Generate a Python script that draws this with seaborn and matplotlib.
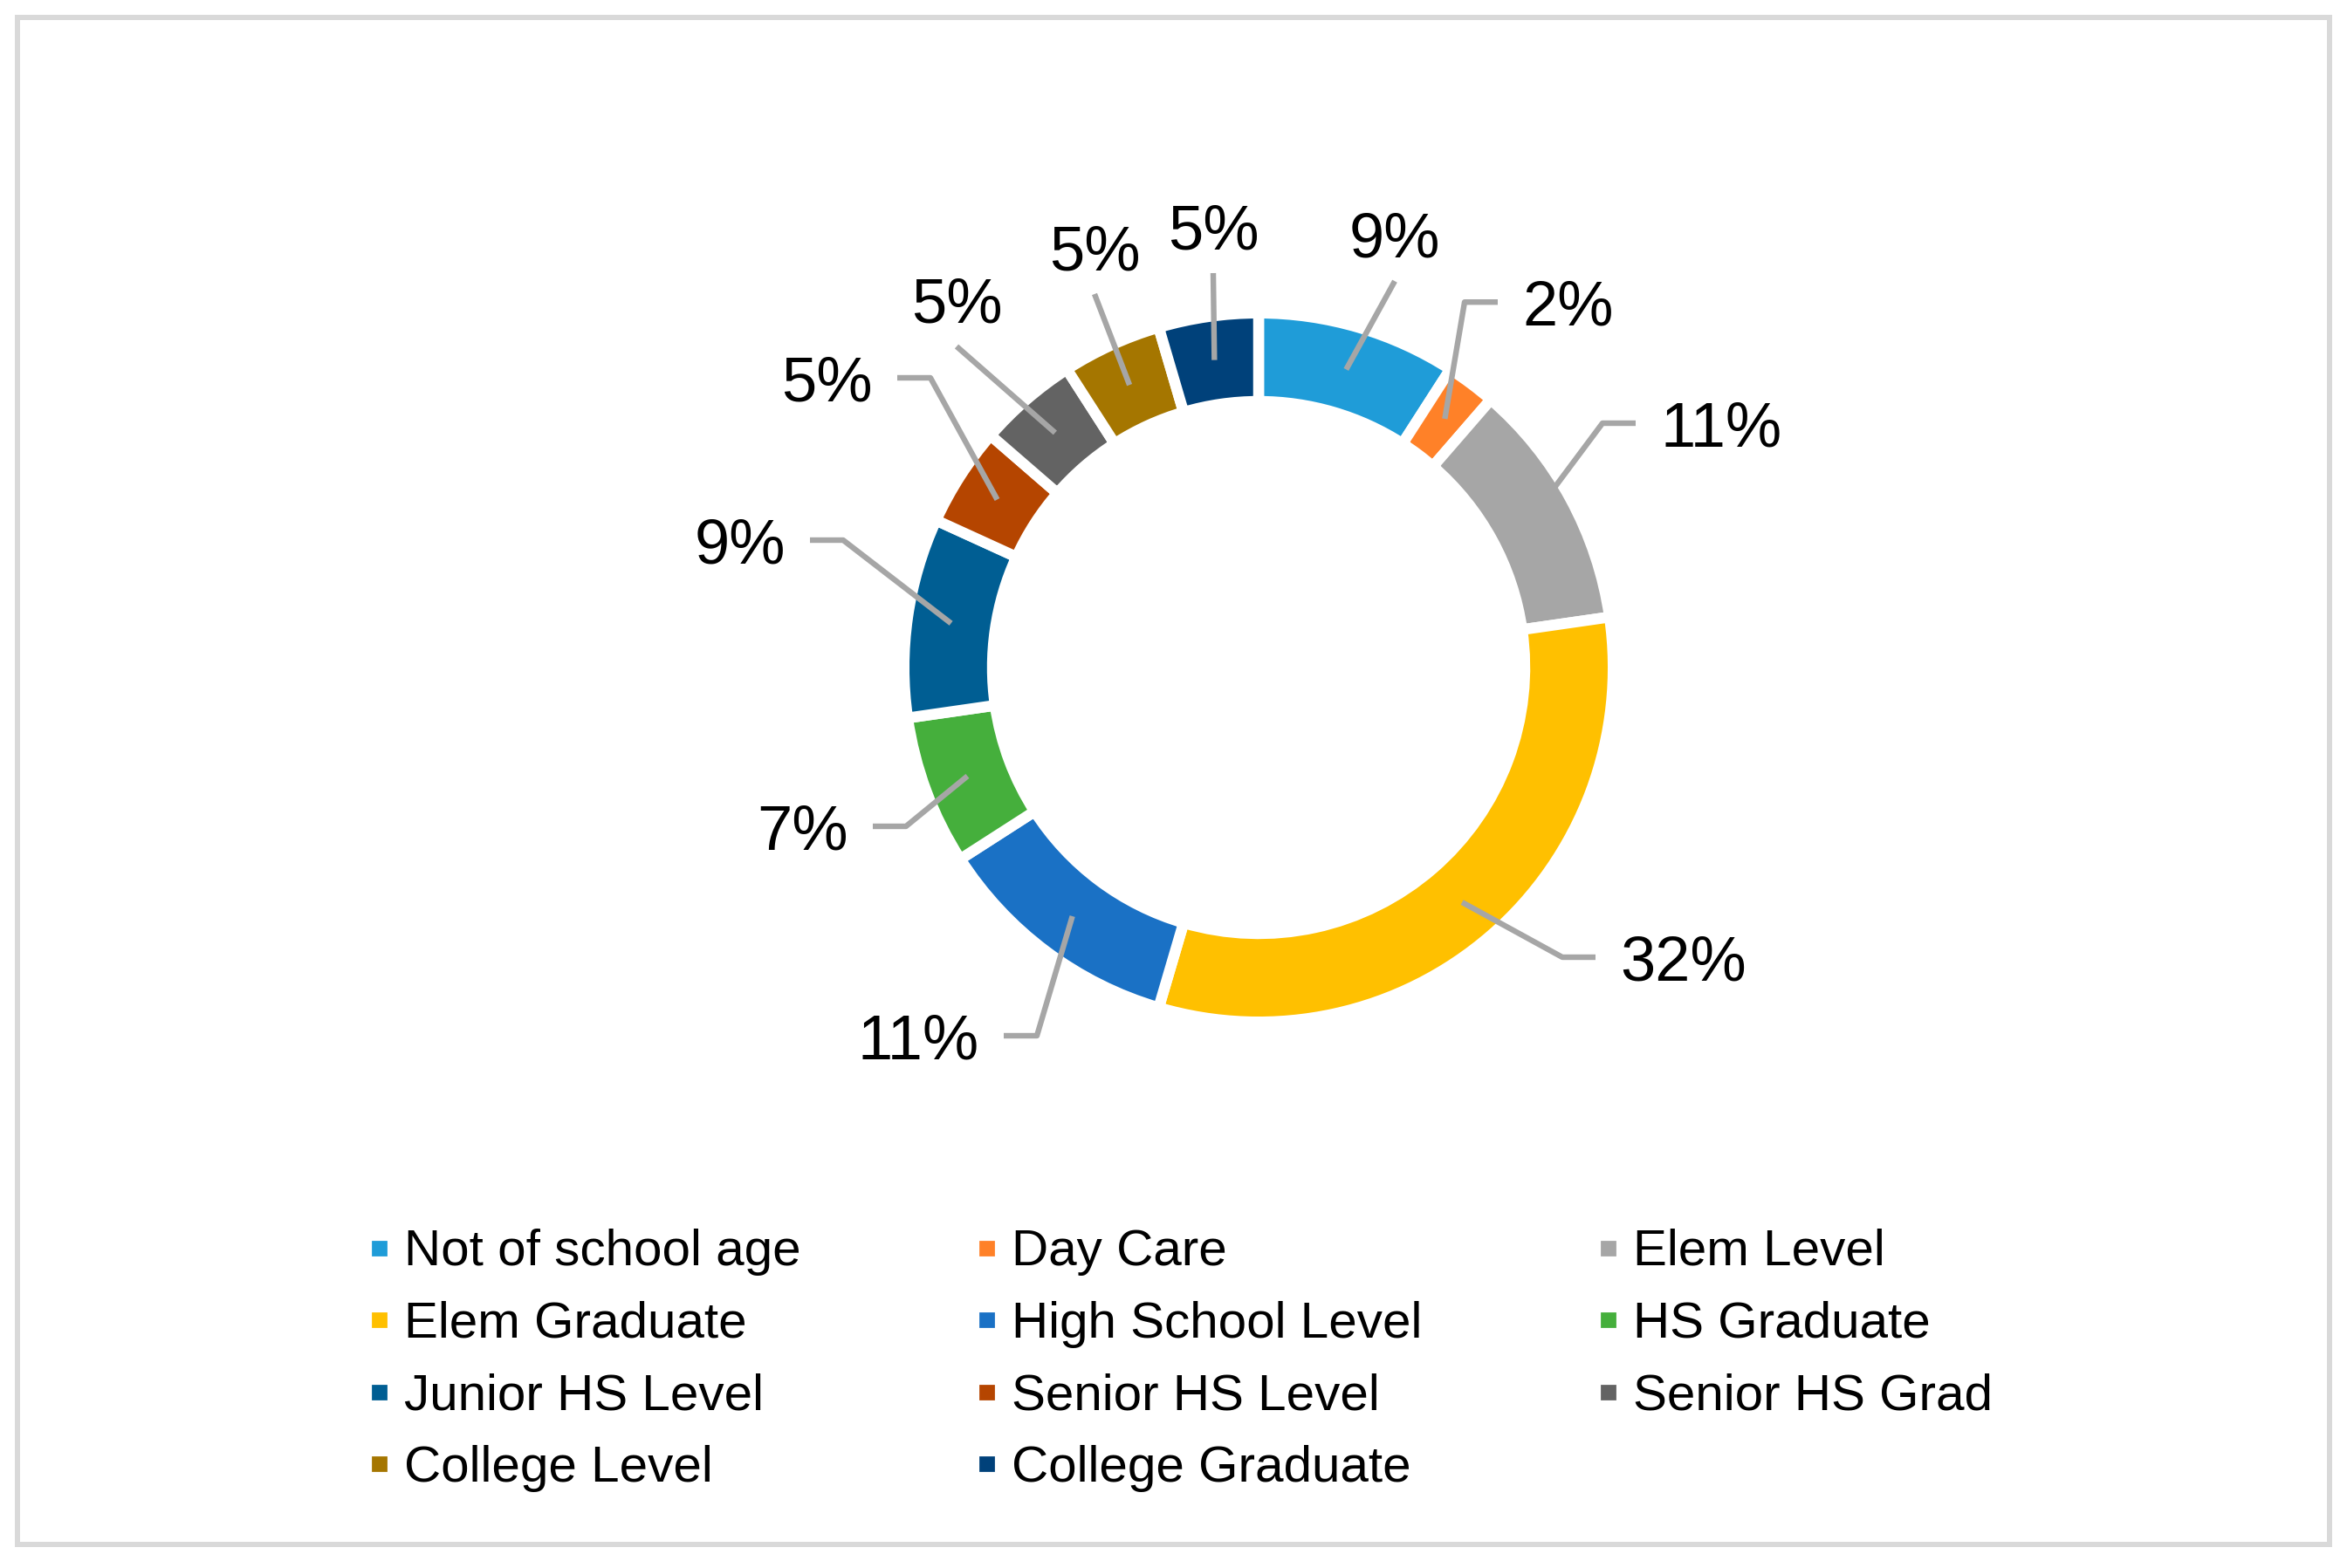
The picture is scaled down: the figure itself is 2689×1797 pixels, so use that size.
import matplotlib
matplotlib.use("Agg")
import matplotlib.pyplot as plt
from matplotlib.lines import Line2D
from matplotlib.patches import Rectangle
import numpy as np
import seaborn as sns

# ---------------- data ----------------
categories = ["Not of school age", "Day Care", "Elem Level", "Elem Graduate",
              "High School Level", "HS Graduate", "Junior HS Level",
              "Senior HS Level", "Senior HS Grad", "College Level", "College Graduate"]
counts = [4, 1, 5, 14, 5, 3, 4, 2, 2, 2, 2]
colors = ["#1F9CD8", "#FF8128", "#A6A6A6", "#FFC000", "#1A71C5", "#45AF3C",
          "#005E93", "#B54500", "#636363", "#A57600", "#00417A"]

# ---------------- layout ----------------
W, H, DPI = 2689, 1797, 200
CX, CY, R = 1442, 765, 400          # pie centre / outer radius in pixels
# label layout: ("side", elbow_x, elbow_y, direction) or ("top", end_x, end_y)
label_layout = [
    ("top", 0.39, 1.107),
    ("side", 0.59, 1.047, 1),
    ("side", 0.985, 0.70, 1),
    ("side", 0.87, -0.83, 1),
    ("side", -0.635, -1.055, -1),
    ("side", -1.01, -0.455, -1),
    ("side", -1.19, 0.365, -1),
    ("side", -0.94, 0.83, -1),
    ("top", -0.865, 0.92),
    ("top", -0.47, 1.07),
    ("top", -0.13, 1.13),
]

sns.set_theme(style="white")
plt.rcParams["font.family"] = ["Liberation Sans", "DejaVu Sans"]
plt.rcParams["text.color"] = "black"

fig = plt.figure(figsize=(W / DPI, H / DPI), dpi=DPI)
fig.patch.set_facecolor("white")
ax = fig.add_axes([0, 0, 1, 1])

edge_lw = 4.5  # pt
half = edge_lw / 2 * DPI / 72 / R
outer = 1.0 + half
inner = 0.778 - half
wedges, _ = ax.pie(counts, colors=colors, startangle=90, counterclock=False,
                   radius=outer, center=(0, 0), frame=True,
                   wedgeprops=dict(width=outer - inner, edgecolor="white",
                                   linewidth=edge_lw))
ax.set_xlim(-CX / R, (W - CX) / R)
ax.set_ylim(-(H - CY) / R, CY / R)
ax.set_aspect("equal")
ax.set_axis_off()

total = sum(counts)
pcts = [c / total * 100 for c in counts]
lead_col = "#A6A6A6"
lab_fs = 26
for w, p, lay in zip(wedges, pcts, label_layout):
    th = np.deg2rad((w.theta1 + w.theta2) / 2)
    ax_x, ax_y = 0.89 * np.cos(th), 0.89 * np.sin(th)
    txt = f"{p:.0f}%"
    if lay[0] == "side":
        _, ex, ey, d = lay
        hx = ex + d * 0.095
        ax.plot([ax_x, ex, hx], [ax_y, ey, ey], color=lead_col, lw=2.3,
                solid_capstyle="butt", zorder=3)
        ax.text(hx + d * 0.07, ey - 0.02, txt, fontsize=lab_fs,
                ha="left" if d > 0 else "right", va="center", color="black")
    else:
        _, ex, ey = lay
        ax.plot([ax_x, ex], [ax_y, ey], color=lead_col, lw=2.3,
                solid_capstyle="butt", zorder=3)
        ax.text(ex, ey + 0.07, txt, fontsize=lab_fs, ha="center",
                va="baseline", color="black")

# legend (row-major order in 3 columns)
handles = [Line2D([0], [0], marker="s", linestyle="none", markersize=5.4,
                  markerfacecolor=c, markeredgecolor=c) for c in colors]
order = [0, 3, 6, 9, 1, 4, 7, 10, 2, 5, 8]
leg = fig.legend([handles[i] for i in order], [categories[i] for i in order],
                 ncol=3, loc="upper left",
                 bbox_to_anchor=(419 / W, 1 - 1408 / H),
                 frameon=False, fontsize=21, handlelength=0.5,
                 handletextpad=0.25, columnspacing=3.39, labelspacing=0.49,
                 borderpad=0, borderaxespad=0, labelcolor="black")

# outer chart border
fig.patches.append(Rectangle((19.5 / W, 1 - 1770 / H), (2668.5 - 19.5) / W,
                             (1770 - 20) / H, transform=fig.transFigure,
                             fill=False, edgecolor="#D9D9D9",
                             linewidth=6 * 72 / DPI))

fig.savefig("out.png", dpi=DPI, facecolor="white")
